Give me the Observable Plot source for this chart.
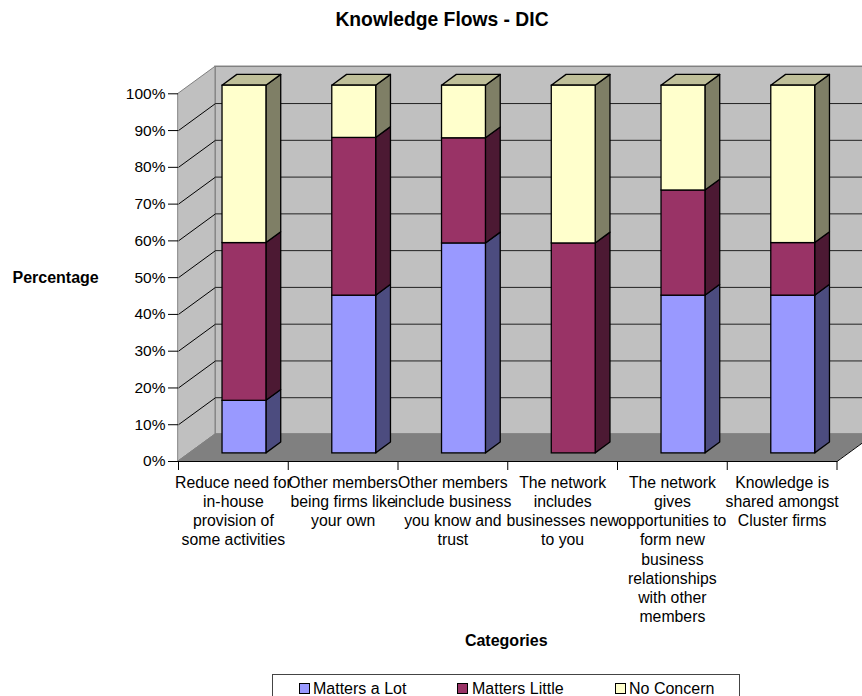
<!DOCTYPE html>
<html><head><meta charset="utf-8">
<script src="https://cdn.jsdelivr.net/npm/d3@7"></script>
<script src="https://cdn.jsdelivr.net/npm/@observablehq/plot@0.6"></script>
<style>
html,body{margin:0;padding:0;background:#fff;overflow:hidden;width:862px;height:696px}
body{font-family:"Liberation Sans",Arial,sans-serif;color:#000;position:relative}
#title{position:absolute;left:0;top:9px;width:884px;text-align:center;font-weight:bold;font-size:19.3px;line-height:22px}
#chart{position:absolute;left:0;top:50px}
#legend{position:absolute;left:272px;top:674px;width:468px;height:40px;box-sizing:border-box;border:1px solid #444;font-size:16px;line-height:28px}
#legend span{position:absolute;top:0;white-space:nowrap}
#legend i{position:absolute;top:8px;width:11px;height:11px;box-sizing:border-box;border:1px solid #000}
</style></head><body>
<div id="title">Knowledge Flows - DIC</div>
<div id="chart"></div>
<div id="legend"></div>
<script>
const categories = [
  "Reduce need for\nin-house\nprovision of\nsome activities",
  "Other members\nbeing firms like\nyour own",
  "Other members\ninclude business\nyou know and\ntrust",
  "The network\nincludes\nbusinesses new\nto you",
  "The network\ngives\nopportunities to\nform new\nbusiness\nrelationships\nwith other\nmembers",
  "Knowledge is\nshared amongst\nCluster firms"
];
const seriesNames = ["Matters a Lot", "Matters Little", "No Concern"];
const mattersALot = [14.3, 42.9, 57.1, 0, 42.9, 42.9];
const mattersLittle = [42.9, 42.9, 28.6, 57.1, 28.6, 14.3];
const noConcern = [42.8, 14.2, 14.3, 42.9, 28.5, 42.8];
const frontColors = ["#9999FF", "#993366", "#FFFFCC"];
const sideColors = ["#4C4C7F", "#4C1933", "#7F7F66"];
const topColors = ["#BFBFA0", "#BFBFA0", "#BFBF99"];
const percentTicks = [0, 10, 20, 30, 40, 50, 60, 70, 80, 90, 100];

// oblique projection: depth 0 = front plane, depth 1 = back wall (in scale units)
const depthX = 37 / 109.75, depthY = 27 / 3.675;
const px = (c, d) => c + d * depthX;
const py = (v, d) => v + d * depthY;
const barW = 0.4, d0 = 0.3, d1 = 0.7;

const series = [mattersALot, mattersLittle, noConcern];
const segs = [];
categories.forEach((_, i) => {
  let base = 0;
  series.forEach((s, k) => {
    if (s[i] > 0) segs.push({i, k, lo: base, hi: base + s[i]});
    base += s[i];
  });
});
const left = s => s.i + 0.5 - barW / 2, right = s => s.i + 0.5 + barW / 2;
const sideFaces = segs.flatMap((s, n) => [d0, d1].map(d => ({n, k: s.k, x: px(right(s), d), y1: py(s.lo, d), y2: py(s.hi, d)})));
const topFaces = segs.filter(s => s.k === 2).flatMap((s, n) => [d0, d1].map(d => ({n, k: s.k, y: py(s.hi, d), x1: px(left(s), d), x2: px(right(s), d)})));
const inner = percentTicks.filter(t => t > 0 && t < 100);

const leftWall = [0, 1].map(d => ({x: px(0, d), y1: py(0, d), y2: py(100, d)}));
const floor = [0, 1].map(d => ({y: py(0, d), x1: px(0, d), x2: px(6, d)}));
const gray = "#808080";
const labelSize = 15.8;
const barStroke = 1.3;

const plot = Plot.plot({
  width: 862, height: 620,
  marginLeft: 178, marginRight: 0, marginTop: 43.3, marginBottom: 209,
  x: {domain: [0, 684 / 109.75], axis: null},
  y: {domain: [0, 100], axis: null},
  style: {fontFamily: '"Liberation Sans",Arial,sans-serif', fontSize: "15.5px", background: "#fff", overflow: "hidden"},
  marks: [
    Plot.rect([0], {x1: px(0, 1), x2: px(6, 1), y1: py(0, 1), y2: py(100, 1), fill: "#C0C0C0", stroke: gray, strokeWidth: 1.5}),
    Plot.areaY(leftWall, {x: "x", y1: "y1", y2: "y2", fill: "#C0C0C0", stroke: gray, strokeWidth: 1}),
    Plot.areaX(floor, {y: "y", x1: "x1", x2: "x2", fill: gray, stroke: gray, strokeWidth: 1}),
    Plot.link(inner, {x1: px(0, 1), x2: px(6, 1), y1: d => py(d, 1), y2: d => py(d, 1), stroke: "#222", strokeWidth: 1}),
    Plot.link(inner, {x1: px(0, 0), x2: px(0, 1), y1: d => py(d, 0), y2: d => py(d, 1), stroke: "#000", strokeWidth: 1}),
    Plot.link([0], {x1: px(0, 0), x2: px(6, 0), y1: 0, y2: 0, stroke: "#000", strokeWidth: 1}),
    Plot.link([0], {x1: px(6, 0), x2: px(6, 1), y1: py(0, 0), y2: py(0, 1), stroke: "#000", strokeWidth: 1}),
    Plot.areaY(sideFaces, {x: "x", y1: "y1", y2: "y2", z: "n", fill: d => sideColors[d.k], stroke: "#000", strokeWidth: barStroke}),
    Plot.areaX(topFaces, {y: "y", x1: "x1", x2: "x2", z: "n", fill: d => topColors[d.k], stroke: "#000", strokeWidth: barStroke}),
    Plot.rect(segs, {x1: s => px(left(s), d0), x2: s => px(right(s), d0), y1: s => py(s.lo, d0), y2: s => py(s.hi, d0), fill: s => frontColors[s.k], stroke: "#000", strokeWidth: barStroke, inset: 0}),
    Plot.axisY({ticks: percentTicks, tickFormat: d => d + "%", tickSize: 10, tickPadding: 3, label: null, stroke: "#000", fontSize: 15.5}),
    Plot.axisX({ticks: [0, 1, 2, 3, 4, 5, 6], tickFormat: () => "", tickSize: 9, label: null, stroke: "#000"}),
    Plot.text(categories, {x: (_, i) => i + 0.5, y: 0, text: d => d, dy: 13, lineAnchor: "top", lineHeight: 1.21, fontSize: labelSize, textAnchor: "middle", fill: "#000"}),
    Plot.text(["Percentage"], {frameAnchor: "left", dx: -166, textAnchor: "start", fontWeight: "bold", fontSize: 16, fill: "#000"}),
    Plot.text(["Categories"], {x: 3, y: 0, dx: -1.5, dy: 179, textAnchor: "middle", fontWeight: "bold", fontSize: 16, fill: "#000"})
  ]
});
document.getElementById("chart").appendChild(plot);

const legendX = [[26, 40], [184, 199], [342, 356]];
const lg = document.getElementById("legend");
seriesNames.forEach((n, k) => {
  const sw = document.createElement("i");
  sw.style.left = legendX[k][0] + "px"; sw.style.background = frontColors[k];
  lg.appendChild(sw);
  const t = document.createElement("span");
  t.style.left = legendX[k][1] + "px"; t.textContent = n;
  lg.appendChild(t);
});
</script></body></html>
